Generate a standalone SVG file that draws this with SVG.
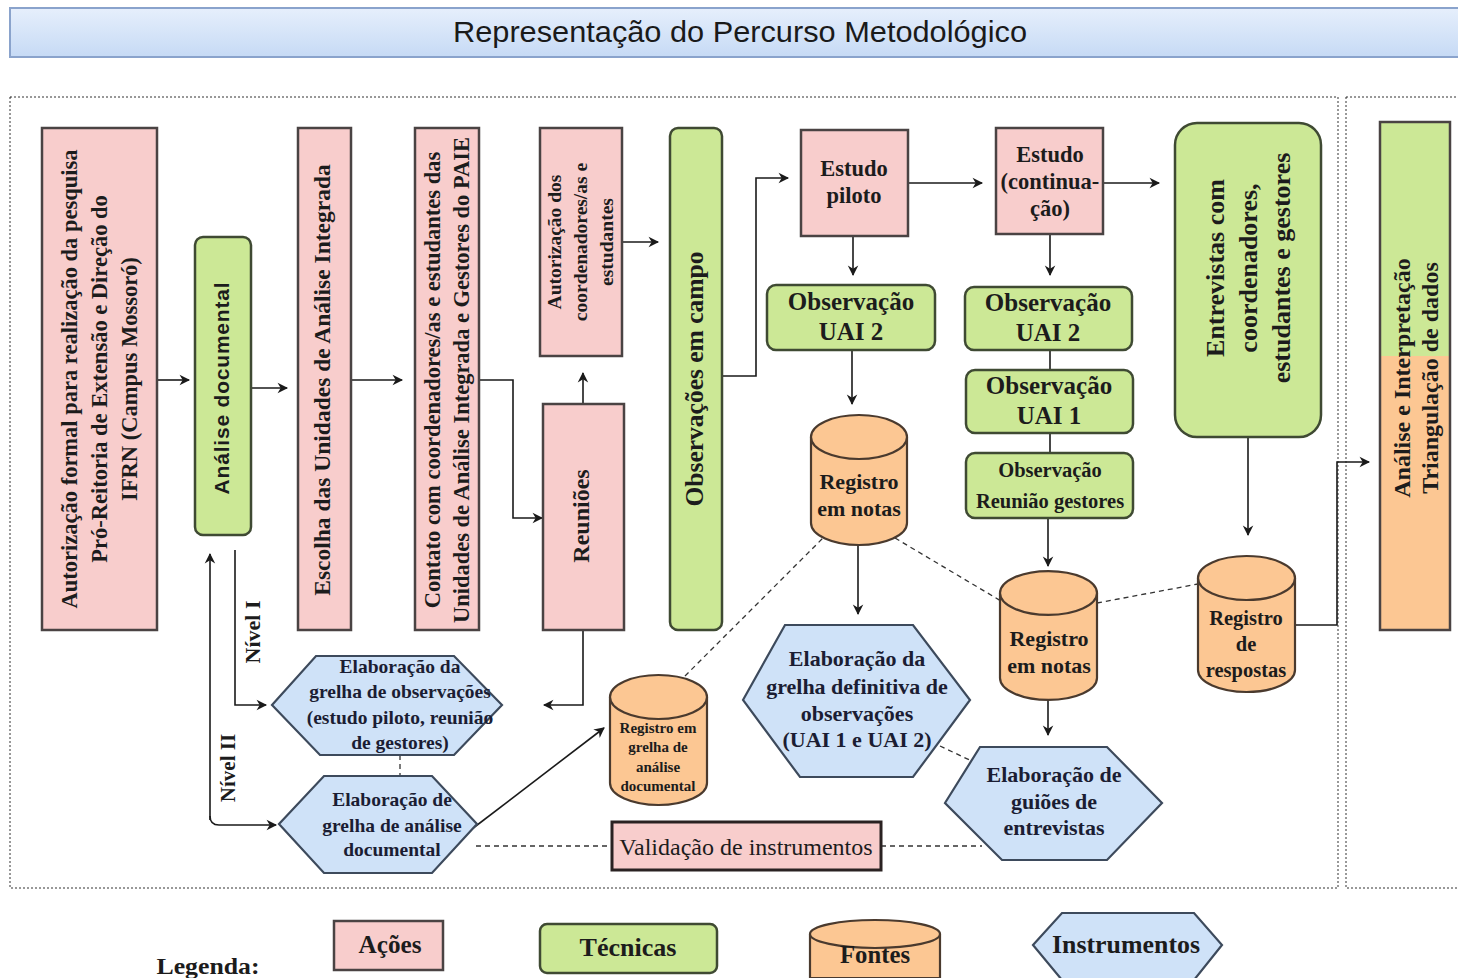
<svg xmlns="http://www.w3.org/2000/svg" width="1458" height="978" viewBox="0 0 1458 978">
<defs>
<linearGradient id="tg" x1="0" y1="0" x2="0" y2="1"><stop offset="0" stop-color="#e6effc"/><stop offset="1" stop-color="#c6daf5"/></linearGradient>
<linearGradient id="ag" x1="0" y1="0" x2="0" y2="1"><stop offset="0.46" stop-color="#cce896"/><stop offset="0.46" stop-color="#fcc793"/></linearGradient>
<marker id="ar" viewBox="0 0 10 10" refX="9" refY="5" markerWidth="7" markerHeight="7" orient="auto" markerUnits="userSpaceOnUse" style="overflow:visible">
<path d="M0,0 L10,5 L0,10 L3,5 z" fill="#1a1a1a" transform="scale(1.5) translate(-3,-1.7)"/>
</marker>
<style>
.act{fill:#f8cdcc;stroke:#4a4343;stroke-width:2.5}
.tec{fill:#cce896;stroke:#3f4a33;stroke-width:2.5}
.fon{fill:#fcc793;stroke:#4a3a2e;stroke-width:2.2}
.ins{fill:#cfe2f8;stroke:#3d4a5c;stroke-width:2.2}
.t{font-family:"Liberation Serif",serif;font-weight:bold;fill:#1c1c1c;text-anchor:middle}
.ts{font-family:"Liberation Sans",sans-serif;font-weight:bold;fill:#1c1c1c;text-anchor:middle}
.ti{font-family:"Liberation Serif",serif;font-weight:bold;fill:#1b1d33;text-anchor:middle}
.ln{fill:none;stroke:#1a1a1a;stroke-width:1.6}
.la{fill:none;stroke:#1a1a1a;stroke-width:1.6;marker-end:url(#ar)}
.dsh{fill:none;stroke:#333;stroke-width:1.3;stroke-dasharray:5,4}
.frame{fill:none;stroke:#333;stroke-width:1;stroke-dasharray:2,2}
</style>
</defs>
<rect width="1458" height="978" fill="#ffffff"/>

<g id="title">
<rect x="10" y="8" width="1460" height="49" fill="url(#tg)" stroke="#8aa3cc" stroke-width="2"/>
<text x="740" y="42" font-family="Liberation Sans,sans-serif" font-size="30" fill="#1a1a1a" text-anchor="middle" textLength="574" lengthAdjust="spacingAndGlyphs">Representação do Percurso Metodológico</text>
</g>

<g id="frames">
<rect x="10" y="97" width="1328" height="791" class="frame"/>
<rect x="1346" y="97" width="130" height="791" class="frame"/>
</g>

<g id="connectors">
<line x1="157" y1="380" x2="189" y2="380" class="la"/>
<line x1="251" y1="388" x2="287" y2="388" class="la"/>
<line x1="351" y1="380" x2="402" y2="380" class="la"/>
<polyline points="479,380 513,380 513,518 542,518" class="la"/>
<line x1="583" y1="404" x2="583" y2="373" class="la"/>
<line x1="622" y1="242" x2="658" y2="242" class="la"/>
<polyline points="722,376 756,376 756,178 788,178" class="la"/>
<line x1="908" y1="183" x2="982" y2="183" class="la"/>
<line x1="1103" y1="183" x2="1159" y2="183" class="la"/>
<line x1="853" y1="236" x2="853" y2="275" class="la"/>
<line x1="852" y1="350" x2="852" y2="404" class="la"/>
<line x1="858" y1="545" x2="858" y2="614" class="la"/>
<line x1="1050" y1="234" x2="1050" y2="275" class="la"/>
<line x1="1050" y1="350" x2="1050" y2="370" class="ln"/>
<line x1="1050" y1="433" x2="1050" y2="453" class="ln"/>
<line x1="1048" y1="518" x2="1048" y2="566" class="la"/>
<line x1="1048" y1="700" x2="1048" y2="735" class="la"/>
<line x1="1248" y1="437" x2="1248" y2="535" class="la"/>
<polyline points="1295,625 1337,625 1337,462 1369,462" class="la"/>
<polyline points="235,550 235,705 266,705" class="la"/>
<polyline points="210,820 210,554" class="la"/>
<path d="M210,816 Q210,825 219,825 L276,825" class="la"/>
<polyline points="583,630 583,705 544,705" class="la"/>
<line x1="468" y1="832" x2="604" y2="728" class="la"/>
<line x1="400" y1="755" x2="400" y2="776" class="dsh"/>
<line x1="476" y1="846" x2="612" y2="846" class="dsh"/>
<line x1="881" y1="846" x2="982" y2="846" class="dsh"/>
<line x1="685" y1="676" x2="823" y2="538" class="dsh"/>
<line x1="895" y1="538" x2="1001" y2="601" class="dsh"/>
<line x1="1097" y1="603" x2="1198" y2="584" class="dsh"/>
<line x1="940" y1="746" x2="978" y2="764" class="dsh"/>
<text x="255" y="632" class="t" font-size="22" transform="rotate(-90 255 632)" dominant-baseline="middle">Nível I</text>
<text x="230" y="768" class="t" font-size="21" transform="rotate(-90 230 768)" dominant-baseline="middle">Nível II</text>
</g>

<g id="n-autorizacao-formal">
<rect x="42" y="128" width="115" height="502" class="act"/>
<g transform="rotate(-90 99.5 379)" class="t" font-size="22.5">
<text x="99.5" y="356">Autorização formal para realização da pesquisa</text>
<text x="99.5" y="386">Pró-Reitoria de Extensão e Direção do</text>
<text x="99.5" y="416">IFRN (Campus Mossoró)</text>
</g>
</g>

<g id="n-analise-documental">
<rect x="195" y="237" width="56" height="298" rx="8" class="tec"/>
<text x="223" y="388" class="ts" font-size="21" letter-spacing="0.8" transform="rotate(-90 223 388)" dominant-baseline="middle">Análise documental</text>
</g>

<g id="n-escolha">
<rect x="298" y="128" width="53" height="502" class="act"/>
<text x="325" y="380" class="t" font-size="23.5" transform="rotate(-90 325 380)" dominant-baseline="middle">Escolha das Unidades de Análise Integrada</text>
</g>

<g id="n-contato">
<rect x="415" y="128" width="64" height="502" class="act"/>
<g transform="rotate(-90 447 380)" class="t" font-size="22.5">
<text x="447" y="373">Contato com coordenadores/as e estudantes das</text>
<text x="447" y="402">Unidades de Análise Integrada e Gestores do PAIE</text>
</g>
</g>

<g id="n-autorizacao-coord">
<rect x="540" y="128" width="82" height="228" class="act"/>
<g transform="rotate(-90 581 242)" class="t" font-size="19.5">
<text x="581" y="222">Autorização dos</text>
<text x="581" y="248">coordenadores/as e</text>
<text x="581" y="274">estudantes</text>
</g>
</g>

<g id="n-reunioes">
<rect x="543" y="404" width="81" height="226" class="act"/>
<text x="583" y="516" class="t" font-size="24" transform="rotate(-90 583 516)" dominant-baseline="middle">Reuniões</text>
</g>

<g id="n-observacoes-campo">
<rect x="670" y="128" width="52" height="502" rx="8" class="tec"/>
<text x="697" y="379" class="t" font-size="25.5" transform="rotate(-90 697 379)" dominant-baseline="middle">Observações em campo</text>
</g>

<g id="n-estudo-piloto">
<rect x="801" y="130" width="107" height="106" class="act"/>
<text x="854" y="176" class="t" font-size="22.5">Estudo</text>
<text x="854" y="203" class="t" font-size="22.5">piloto</text>
</g>

<g id="n-estudo-continuacao">
<rect x="996" y="128" width="107" height="106" class="act"/>
<text x="1050" y="162" class="t" font-size="22.5">Estudo</text>
<text x="1050" y="189" class="t" font-size="22.5">(continua-</text>
<text x="1050" y="216" class="t" font-size="22.5">ção)</text>
</g>

<g id="n-entrevistas">
<rect x="1175" y="123" width="146" height="314" rx="22" class="tec"/>
<g transform="rotate(-90 1248 268)" class="t" font-size="26">
<text x="1248" y="244">Entrevistas com</text>
<text x="1248" y="277">coordenadores,</text>
<text x="1248" y="310">estudantes e gestores</text>
</g>
</g>

<g id="n-analise-interpretacao">
<rect x="1380" y="122" width="70" height="508" fill="url(#ag)" stroke="#4a4343" stroke-width="2.5"/>
<g transform="rotate(-90 1416 378)" class="t" font-size="24">
<text x="1416" y="372">Análise e Interpretação</text>
<text x="1416" y="400">Triangulação de dados</text>
</g>
</g>

<g id="n-obs-uai2-a">
<rect x="767" y="285" width="168" height="65" rx="9" class="tec"/>
<text x="851" y="310" class="t" font-size="25">Observação</text>
<text x="851" y="340" class="t" font-size="25">UAI 2</text>
</g>

<g id="n-registro-notas-1">
<path d="M811,437 A48,22 0 0 1 907,437 V523 A48,22 0 0 1 811,523 Z" class="fon"/>
<path d="M811,437 A48,22 0 0 0 907,437" class="fon" fill="none"/>
<text x="859" y="489" class="t" font-size="22">Registro</text>
<text x="859" y="516" class="t" font-size="22">em notas</text>
</g>

<g id="n-obs-uai2-b">
<rect x="965" y="287" width="167" height="63" rx="9" class="tec"/>
<text x="1048" y="311" class="t" font-size="25">Observação</text>
<text x="1048" y="341" class="t" font-size="25">UAI 2</text>
</g>

<g id="n-obs-uai1">
<rect x="966" y="370" width="167" height="63" rx="9" class="tec"/>
<text x="1049" y="394" class="t" font-size="25">Observação</text>
<text x="1049" y="424" class="t" font-size="25">UAI 1</text>
</g>

<g id="n-obs-reuniao">
<rect x="966" y="453" width="167" height="65" rx="9" class="tec"/>
<text x="1050" y="477" class="t" font-size="20.5">Observação</text>
<text x="1050" y="508" class="t" font-size="20.5">Reunião gestores</text>
</g>

<g id="n-registro-notas-2">
<path d="M1000,593 A48.5,22 0 0 1 1097,593 V678 A48.5,22 0 0 1 1000,678 Z" class="fon"/>
<path d="M1000,593 A48.5,22 0 0 0 1097,593" class="fon" fill="none"/>
<text x="1049" y="646" class="t" font-size="22">Registro</text>
<text x="1049" y="673" class="t" font-size="22">em notas</text>
</g>

<g id="n-registro-respostas">
<path d="M1198,578 A48.5,22 0 0 1 1295,578 V670 A48.5,22 0 0 1 1198,670 Z" class="fon"/>
<path d="M1198,578 A48.5,22 0 0 0 1295,578" class="fon" fill="none"/>
<text x="1246" y="625" class="t" font-size="20.5">Registro</text>
<text x="1246" y="651" class="t" font-size="20.5">de</text>
<text x="1246" y="677" class="t" font-size="20.5">respostas</text>
</g>

<g id="n-registro-grelha">
<path d="M610,697 A48.5,22 0 0 1 707,697 V783 A48.5,22 0 0 1 610,783 Z" class="fon"/>
<path d="M610,697 A48.5,22 0 0 0 707,697" class="fon" fill="none"/>
<text x="658" y="733" class="t" font-size="15">Registro em</text>
<text x="658" y="752" class="t" font-size="15">grelha de</text>
<text x="658" y="772" class="t" font-size="15">análise</text>
<text x="658" y="791" class="t" font-size="15">documental</text>
</g>

<g id="n-hex-observacoes">
<polygon points="272,705 316,656 454,656 502,705 454,755 320,755" class="ins"/>
<text x="400" y="673" class="ti" font-size="19.5">Elaboração da</text>
<text x="400" y="698" class="ti" font-size="19.5">grelha de observações</text>
<text x="400" y="724" class="ti" font-size="19.5">(estudo piloto, reunião</text>
<text x="400" y="749" class="ti" font-size="19.5">de gestores)</text>
</g>

<g id="n-hex-analise">
<polygon points="279,824 324,776 432,776 477,824 432,873 324,873" class="ins"/>
<text x="392" y="806" class="ti" font-size="19.5">Elaboração de</text>
<text x="392" y="832" class="ti" font-size="19.5">grelha de análise</text>
<text x="392" y="856" class="ti" font-size="19.5">documental</text>
</g>

<g id="n-hex-definitiva">
<polygon points="743,700 785,625 913,625 970,700 913,777 800,777" class="ins"/>
<text x="857" y="666" class="ti" font-size="22">Elaboração da</text>
<text x="857" y="694" class="ti" font-size="22">grelha definitiva de</text>
<text x="857" y="721" class="ti" font-size="22">observações</text>
<text x="857" y="747" class="ti" font-size="22">(UAI 1 e UAI 2)</text>
</g>

<g id="n-hex-guioes">
<polygon points="945,803 980,747 1107,747 1162,803 1107,860 1002,860" class="ins"/>
<text x="1054" y="782" class="ti" font-size="22">Elaboração de</text>
<text x="1054" y="809" class="ti" font-size="22">guiões de</text>
<text x="1054" y="835" class="ti" font-size="22">entrevistas</text>
</g>

<g id="n-validacao">
<rect x="612" y="822" width="269" height="48" fill="#f8cdcc" stroke="#2a2222" stroke-width="3"/>
<text x="746" y="855" font-family="Liberation Serif,serif" font-size="24" fill="#1c1c1c" text-anchor="middle">Validação de instrumentos</text>
</g>

<g id="legend">
<text x="208" y="974" class="t" font-size="24" textLength="103" lengthAdjust="spacingAndGlyphs">Legenda:</text>
<g id="lg-acoes">
<rect x="334" y="921" width="109" height="49" class="act"/>
<text x="390" y="953" class="t" font-size="25" textLength="63" lengthAdjust="spacingAndGlyphs">Ações</text>
</g>
<g id="lg-tecnicas">
<rect x="540" y="924" width="177" height="49" rx="7" class="tec"/>
<text x="628" y="956" class="t" font-size="25" textLength="97" lengthAdjust="spacingAndGlyphs">Técnicas</text>
</g>
<g id="lg-fontes">
<path d="M810,934 A65,14 0 0 1 940,934 V978 H810 Z" class="fon"/>
<path d="M810,934 A65,14 0 0 0 940,934" class="fon" fill="none"/>
<text x="875" y="963" class="t" font-size="25" textLength="70" lengthAdjust="spacingAndGlyphs">Fontes</text>
</g>
<g id="lg-instrumentos">
<polygon points="1033,945 1062,913 1194,913 1222,945 1194,980 1062,980" class="ins"/>
<text x="1126" y="953" class="t" font-size="25" textLength="148" lengthAdjust="spacingAndGlyphs">Instrumentos</text>
</g>
</g>
</svg>
